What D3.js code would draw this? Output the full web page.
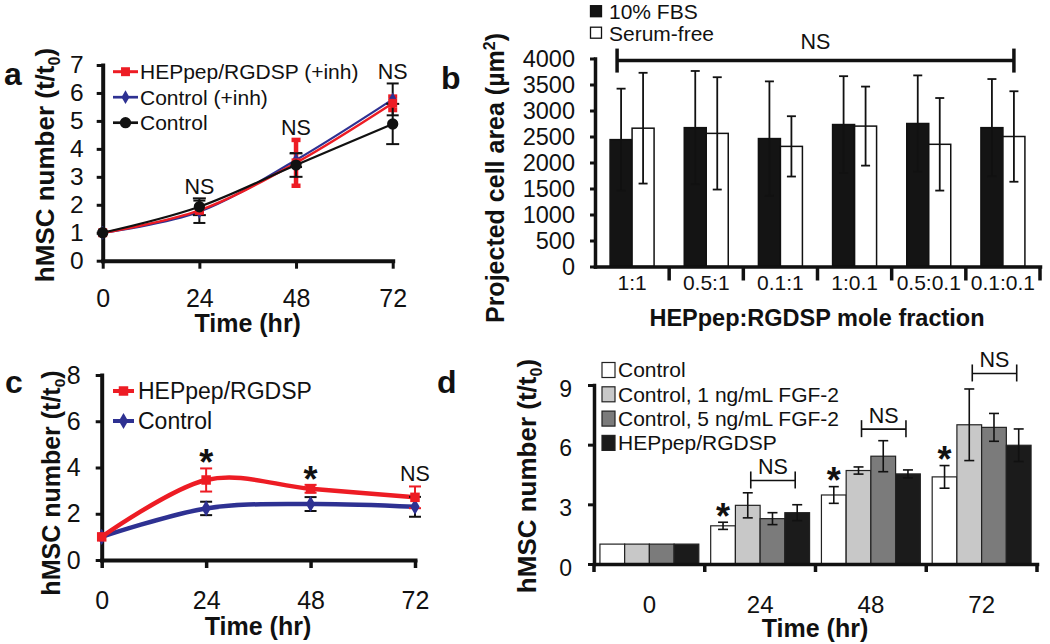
<!DOCTYPE html>
<html><head><meta charset="utf-8">
<script src="https://cdn.jsdelivr.net/npm/d3@7"></script>
<style>body{margin:0;background:#fff} svg{display:block;background:#fff}</style>
</head><body>
<svg id="chart" width="1050" height="644"></svg>
<script>
const FONT = "'Liberation Sans', Arial, Helvetica, sans-serif";

// ---------------- data ----------------
const hours = [0, 24, 48, 72];

// panel a
const aSeriesNames = ["HEPpep/RGDSP (+inh)", "Control (+inh)", "Control"];
const aHepInh = [1.0, 1.8, 3.5, 5.63];
const aHepInhErr = [0, 0.1, 0.82, 0.24];
const aCtrlInh = [1.0, 1.75, 3.6, 5.77];
const aCtrlInhErr = [0, 0.4, 0.25, 0.57];
const aCtrl = [1.0, 1.93, 3.42, 4.89];
const aCtrlErr = [0, 0.3, 0.42, 0.72];
const aYTicks = [0, 1, 2, 3, 4, 5, 6, 7];
const aMarks = ["", "NS", "NS", "NS"];

// panel b
const bCategories = ["1:1", "0.5:1", "0.1:1", "1:0.1", "0.5:0.1", "0.1:0.1"];
const bSeriesNames = ["10% FBS", "Serum-free"];
const bFBS = [2440, 2670, 2460, 2730, 2750, 2670];
const bFBSErr = [980, 1090, 1100, 930, 925, 935];
const bSF = [2660, 2560, 2310, 2700, 2350, 2500];
const bSFErr = [1065, 1080, 580, 760, 890, 870];
const bYTicks = [0, 500, 1000, 1500, 2000, 2500, 3000, 3500, 4000];
const bNSLevel = 3960;

// panel c
const cSeriesNames = ["HEPpep/RGDSP", "Control"];
const cHep = [1.0, 3.46, 3.08, 2.71];
const cHepErr = [0, 0.5, 0.17, 0.47];
const cCtrl = [1.0, 2.23, 2.42, 2.30];
const cCtrlErr = [0, 0.29, 0.30, 0.43];
const cYTicks = [0, 2, 4, 6, 8];
const cMarks = ["", "*", "*", "NS"];

// panel d
const dSeriesNames = ["Control", "Control, 1 ng/mL FGF-2", "Control, 5 ng/mL FGF-2", "HEPpep/RGDSP"];
const dCtrl = [1.0, 1.92, 3.47, 4.38];
const dCtrlErr = [0, 0.18, 0.42, 0.57];
const dFGF1 = [1.0, 2.95, 4.70, 7.00];
const dFGF1Err = [0, 0.63, 0.18, 1.80];
const dFGF5 = [1.0, 2.28, 5.42, 6.87];
const dFGF5Err = [0, 0.30, 0.78, 0.70];
const dHep = [1.0, 2.58, 4.53, 5.97];
const dHepErr = [0, 0.40, 0.20, 0.82];
const dYTicks = [0, 3, 6, 9];
const dStars = ["", "*", "*", "*"];
const dNSLevel = [null, 4.2, 6.78, 9.58];

// ---------------- helpers ----------------
const svg = d3.select("#chart").attr("font-family", FONT);
svg.append("rect").attr("width", 1050).attr("height", 644).attr("fill", "#fff");
const INK = "#111";
const intFmt = d3.format("d");

function styleAxis(g, fs, sw, tw) {
  g.attr("font-family", FONT).attr("font-size", fs);
  g.select(".domain").attr("stroke", INK).attr("stroke-width", sw).attr("stroke-linecap", "square");
  g.selectAll(".tick line").attr("stroke", INK).attr("stroke-width", tw);
  g.selectAll(".tick text").attr("fill", INK);
}
function errorBar(g, x, yTop, yBot, half, color, sw) {
  g.append("line").attr("x1", x).attr("x2", x).attr("y1", yTop).attr("y2", yBot)
    .attr("stroke", color).attr("stroke-width", sw);
  [yTop, yBot].forEach(y => g.append("line").attr("x1", x - half).attr("x2", x + half)
    .attr("y1", y).attr("y2", y).attr("stroke", color).attr("stroke-width", sw));
}
function hmscTitle(g, cx, cy, fs) {
  const t = g.append("text").attr("transform", `translate(${cx},${cy}) rotate(-90)`)
    .attr("text-anchor", "middle").attr("font-weight", "bold").attr("font-size", fs).attr("fill", INK);
  t.append("tspan").attr("dy", fs * 0.35).text("hMSC number (t/t");
  t.append("tspan").attr("font-size", fs * 0.62).attr("dy", fs * 0.22).text("0");
  t.append("tspan").attr("dy", -fs * 0.22).text(")");
}
function centerText(g, x, cy, s, fs, bold) {
  return g.append("text").attr("x", x).attr("y", cy).attr("dy", "0.35em").attr("text-anchor", "middle")
    .attr("font-size", fs).attr("font-weight", bold ? "bold" : "normal").attr("fill", INK).text(s);
}
function asterisk(g, x, cy) {
  const fs = 36;
  g.append("text").attr("x", x).attr("y", cy + 0.55 * fs).attr("text-anchor", "middle")
    .attr("font-size", fs).attr("font-weight", "bold").attr("fill", INK).text("*");
}
function panelLabel(x, y, s) {
  svg.append("text").attr("x", x).attr("y", y).attr("font-size", 32).attr("font-weight", "bold")
    .attr("fill", INK).text(s);
}
const smooth = d3.curveCardinal.tension(0);

// ---------------- panel a ----------------
{
  const x = d3.scaleLinear().domain([0, 72]).range([102.7, 392.7]);
  const y = d3.scaleLinear().domain([0, 7]).range([260.7, 65]);
  const g = svg.append("g");
  const gy = g.append("g").attr("transform", `translate(${x(0)},0)`)
    .call(d3.axisLeft(y).tickValues(aYTicks).tickFormat(intFmt).tickSize(6).tickSizeOuter(0).tickPadding(13));
  styleAxis(gy, 24.5, 4, 3);
  const gx = g.append("g").attr("transform", `translate(0,${y(0)})`)
    .call(d3.axisBottom(x).tickValues(hours).tickFormat(intFmt).tickSize(8).tickSizeOuter(0).tickPadding(20.5));
  styleAxis(gx, 25, 4, 3);

  const series = [
    { name: aSeriesNames[1], v: aCtrlInh, e: aCtrlInhErr, color: "#2e3192", errColor: INK, errW: 2, half: 6, lw: 2.2, sym: d3.symbolDiamond, size: 55 },
    { name: aSeriesNames[0], v: aHepInh, e: aHepInhErr, color: "#ed1c24", errColor: "#ed1c24", errW: 4.5, half: 4.5, lw: 2.5, sym: d3.symbolSquare, size: 80 },
    { name: aSeriesNames[2], v: aCtrl, e: aCtrlErr, color: INK, errColor: INK, errW: 2, half: 6.5, lw: 2.2, sym: d3.symbolCircle, size: 100 },
  ];
  const line = d3.line().x((d, i) => x(hours[i])).y(d => y(d)).curve(smooth);
  series.forEach(s => g.append("path").attr("d", line(s.v)).attr("fill", "none")
    .attr("stroke", s.color).attr("stroke-width", s.lw));
  series.forEach(s => s.v.forEach((v, i) => {
    if (s.e[i] > 0) errorBar(g, x(hours[i]), y(v + s.e[i]), y(v - s.e[i]), s.half, s.errColor, s.errW);
  }));
  series.forEach(s => s.v.forEach((v, i) => {
    g.append("path").attr("d", d3.symbol(s.sym, s.size)()).attr("transform", `translate(${x(hours[i])},${y(v)})`)
      .attr("fill", s.color);
  }));
  aMarks.forEach((m, i) => {
    if (!m) return;
    const top = d3.max(series, s => s.v[i] + s.e[i]);
    centerText(g, x(hours[i]), y(top) - 12, m, 21.5, false);
  });
  const legOrder = [series[1], series[0], series[2]];
  legOrder.forEach((s, k) => {
    const ly = 71.7 + k * 25.5;
    g.append("line").attr("x1", 113).attr("x2", 138).attr("y1", ly).attr("y2", ly)
      .attr("stroke", s.color).attr("stroke-width", s.lw + 0.5);
    g.append("path").attr("d", d3.symbol(s.sym, s.size)()).attr("transform", `translate(125.5,${ly})`).attr("fill", s.color);
    g.append("text").attr("x", 140).attr("y", ly).attr("dy", "0.35em").attr("font-size", 21).attr("fill", INK).text(s.name);
  });
  hmscTitle(g, 45, 165, 26);
  centerText(g, 247.7, 323, "Time (hr)", 25, true);
  panelLabel(4, 85, "a");
}

// ---------------- panel b ----------------
{
  const x = d3.scaleBand().domain(bCategories).range([595, 1040]).padding(0);
  const xi = d3.scaleBand().domain(bSeriesNames).range([0, x.bandwidth()]).paddingInner(0).paddingOuter(0.686);
  const y = d3.scaleLinear().domain([0, 4000]).range([266.5, 58.5]);
  const g = svg.append("g");
  const series = [
    { name: bSeriesNames[0], v: bFBS, e: bFBSErr, fill: "#141414" },
    { name: bSeriesNames[1], v: bSF, e: bSFErr, fill: "#ffffff" },
  ];
  series.forEach(s => s.v.forEach((v, i) => {
    const c = bCategories[i];
    g.append("rect").attr("x", x(c) + xi(s.name)).attr("width", xi.bandwidth())
      .attr("y", y(v)).attr("height", y(0) - y(v)).attr("fill", s.fill).attr("stroke", INK).attr("stroke-width", 1.5);
  }));
  series.forEach(s => s.v.forEach((v, i) => {
    const cx = x(bCategories[i]) + xi(s.name) + xi.bandwidth() / 2;
    errorBar(g, cx, y(v + s.e[i]), y(v - s.e[i]), 4.5, INK, 1.8);
  }));
  const gy = g.append("g").attr("transform", `translate(${x.range()[0]},0)`)
    .call(d3.axisLeft(y).tickValues(bYTicks).tickFormat(intFmt).tickSize(5).tickSizeOuter(0).tickPadding(15));
  styleAxis(gy, 23.5, 3.5, 3);
  const gx = g.append("g").attr("transform", `translate(0,${y(0)})`)
    .call(d3.axisBottom(x).tickSize(0).tickSizeOuter(0).tickPadding(9));
  styleAxis(gx, 21, 3.5, 3);
  bCategories.forEach(c => {
    const bx = x(c) + x.bandwidth();
    g.append("line").attr("x1", bx).attr("x2", bx).attr("y1", y(0)).attr("y2", y(0) + 14)
      .attr("stroke", INK).attr("stroke-width", 3.5);
  });
  const x1 = x(bCategories[0]) + xi(bSeriesNames[0]) + xi.bandwidth() / 2 - 4;
  const x2 = x(bCategories[bCategories.length - 1]) + xi(bSeriesNames[1]) + xi.bandwidth() / 2;
  const yl = y(bNSLevel);
  g.append("line").attr("x1", x1).attr("x2", x2).attr("y1", yl).attr("y2", yl).attr("stroke", INK).attr("stroke-width", 3.5);
  [x1, x2].forEach(xx => g.append("line").attr("x1", xx).attr("x2", xx).attr("y1", yl - 12).attr("y2", yl + 12)
    .attr("stroke", INK).attr("stroke-width", 3.5));
  centerText(g, (x1 + x2) / 2, yl - 19, "NS", 21.5, false);
  series.forEach((s, k) => {
    const ly = 11.7 + k * 21.5;
    g.append("rect").attr("x", 590.5).attr("y", ly - 6).attr("width", 11).attr("height", 11)
      .attr("fill", s.fill).attr("stroke", INK).attr("stroke-width", 1.3);
    g.append("text").attr("x", 609).attr("y", ly).attr("dy", "0.35em").attr("font-size", 21).attr("fill", INK).text(s.name);
  });
  const t = g.append("text").attr("transform", "translate(495,178) rotate(-90)").attr("text-anchor", "middle")
    .attr("font-weight", "bold").attr("font-size", 25).attr("fill", INK);
  t.append("tspan").attr("dy", 25 * 0.35).text("Projected cell area (\u00B5m");
  t.append("tspan").attr("font-size", 16).attr("dy", -9).text("2");
  t.append("tspan").attr("dy", 9).text(")");
  centerText(g, 817, 318, "HEPpep:RGDSP mole fraction", 23.5, true);
  panelLabel(441, 89, "b");
}

// ---------------- panel c ----------------
{
  const x = d3.scaleLinear().domain([0, 72]).range([101.7, 415]);
  const y = d3.scaleLinear().domain([0, 8]).range([560, 375]);
  const g = svg.append("g");
  const gy = g.append("g").attr("transform", `translate(${x(0)},0)`)
    .call(d3.axisLeft(y).tickValues(cYTicks).tickFormat(intFmt).tickSize(6).tickSizeOuter(0).tickPadding(15));
  styleAxis(gy, 25, 4, 3);
  const gx = g.append("g").attr("transform", `translate(0,${y(0)})`)
    .call(d3.axisBottom(x).tickValues(hours).tickFormat(intFmt).tickSize(8).tickSizeOuter(0).tickPadding(23));
  styleAxis(gx, 25, 4, 3.5);
  const series = [
    { name: cSeriesNames[1], v: cCtrl, e: cCtrlErr, color: "#2e3192", errColor: INK, sym: d3.symbolDiamond, size: 75 },
    { name: cSeriesNames[0], v: cHep, e: cHepErr, color: "#ed1c24", errColor: "#ed1c24", sym: d3.symbolSquare, size: 90 },
  ];
  const line = d3.line().x((d, i) => x(hours[i])).y(d => y(d)).curve(smooth);
  series.forEach(s => g.append("path").attr("d", line(s.v)).attr("fill", "none")
    .attr("stroke", s.color).attr("stroke-width", 4.5));
  series.forEach(s => s.v.forEach((v, i) => {
    if (s.e[i] > 0) errorBar(g, x(hours[i]), y(v + s.e[i]), y(v - s.e[i]), 6, s.errColor, 2);
  }));
  series.forEach(s => s.v.forEach((v, i) => {
    g.append("path").attr("d", d3.symbol(s.sym, s.size)()).attr("transform", `translate(${x(hours[i])},${y(v)})`)
      .attr("fill", s.color);
  }));
  cMarks.forEach((m, i) => {
    if (!m) return;
    const top = d3.max(series, s => s.v[i] + s.e[i]);
    const cy = y(top) - 13;
    if (m === "*") asterisk(g, x(hours[i]), cy); else centerText(g, x(hours[i]), cy, m, 21.5, false);
  });
  [series[1], series[0]].forEach((s, k) => {
    const ly = 391 + k * 30;
    g.append("line").attr("x1", 113).attr("x2", 134).attr("y1", ly).attr("y2", ly)
      .attr("stroke", s.color).attr("stroke-width", 4);
    g.append("path").attr("d", d3.symbol(s.sym, s.size)()).attr("transform", `translate(123.5,${ly})`).attr("fill", s.color);
    g.append("text").attr("x", 138).attr("y", ly).attr("dy", "0.35em").attr("font-size", 23).attr("fill", INK).text(s.name);
  });
  hmscTitle(g, 51, 483, 25);
  centerText(g, 258, 626, "Time (hr)", 25, true);
  panelLabel(5, 393, "c");
}

// ---------------- panel d ----------------
{
  const cats = hours.map(String);
  const x = d3.scaleBand().domain(cats).range([594, 1037]).padding(0);
  const xi = d3.scaleBand().domain(dSeriesNames).range([0, x.bandwidth()]).paddingInner(0).paddingOuter(0.24);
  const y = d3.scaleLinear().domain([0, 9]).range([564, 385]);
  const g = svg.append("g");
  const fills = ["#ffffff", "#c8c8c8", "#7b7b7b", "#1b1b1b"];
  const series = [
    { name: dSeriesNames[0], v: dCtrl, e: dCtrlErr },
    { name: dSeriesNames[1], v: dFGF1, e: dFGF1Err },
    { name: dSeriesNames[2], v: dFGF5, e: dFGF5Err },
    { name: dSeriesNames[3], v: dHep, e: dHepErr },
  ];
  series.forEach((s, k) => s.v.forEach((v, i) => {
    g.append("rect").attr("x", x(cats[i]) + xi(s.name)).attr("width", xi.bandwidth())
      .attr("y", y(v)).attr("height", y(0) - y(v)).attr("fill", fills[k]).attr("stroke", "#222").attr("stroke-width", 1.2);
  }));
  const cxOf = (s, i) => x(cats[i]) + xi(s) + xi.bandwidth() / 2;
  series.forEach(s => s.v.forEach((v, i) => {
    if (s.e[i] > 0) errorBar(g, cxOf(s.name, i), y(v + s.e[i]), y(v - s.e[i]), 5, INK, 1.6);
  }));
  const gy = g.append("g").attr("transform", `translate(${x.range()[0]},0)`)
    .call(d3.axisLeft(y).tickValues(dYTicks).tickFormat(intFmt).tickSize(6).tickSizeOuter(0).tickPadding(16));
  styleAxis(gy, 23, 3.5, 3);
  gy.selectAll(".tick text").attr("dy", "0.48em");
  const gx = g.append("g").attr("transform", `translate(0,${y(0)})`)
    .call(d3.axisBottom(x).tickSize(0).tickSizeOuter(0).tickPadding(31.5));
  styleAxis(gx, 24, 3.5, 3);
  cats.concat(["end"]).forEach((c, k) => {
    const bx = k < cats.length ? x(c) : x.range()[1];
    g.append("line").attr("x1", bx).attr("x2", bx).attr("y1", y(0)).attr("y2", y(0) + 8)
      .attr("stroke", INK).attr("stroke-width", 3.5);
  });
  dStars.forEach((m, i) => {
    if (!m) return;
    const s = series[0];
    asterisk(g, cxOf(s.name, i), y(s.v[i] + s.e[i]) - 13.5);
  });
  dNSLevel.forEach((lv, i) => {
    if (lv == null) return;
    const x1 = cxOf(dSeriesNames[1], i) + 3, x2 = cxOf(dSeriesNames[3], i) - 2;
    const yl = y(lv);
    g.append("line").attr("x1", x1).attr("x2", x2).attr("y1", yl).attr("y2", yl).attr("stroke", INK).attr("stroke-width", 1.6);
    [x1, x2].forEach(xx => g.append("line").attr("x1", xx).attr("x2", xx).attr("y1", yl - 9).attr("y2", yl + 8)
      .attr("stroke", INK).attr("stroke-width", 1.6));
    centerText(g, (x1 + x2) / 2, yl - 13.5, "NS", 21.5, false);
  });
  series.forEach((s, k) => {
    const ly = 370 + k * 24.3;
    g.append("rect").attr("x", 602).attr("y", ly - 7.5).attr("width", 13).attr("height", 15)
      .attr("fill", fills[k]).attr("stroke", "#222").attr("stroke-width", 1.2);
    g.append("text").attr("x", 618).attr("y", ly).attr("dy", "0.35em").attr("font-size", 21).attr("fill", INK).text(s.name);
  });
  hmscTitle(g, 527, 476, 26);
  centerText(g, 815, 628, "Time (hr)", 25, true);
  panelLabel(437, 393, "d");
}
</script>
</body></html>
